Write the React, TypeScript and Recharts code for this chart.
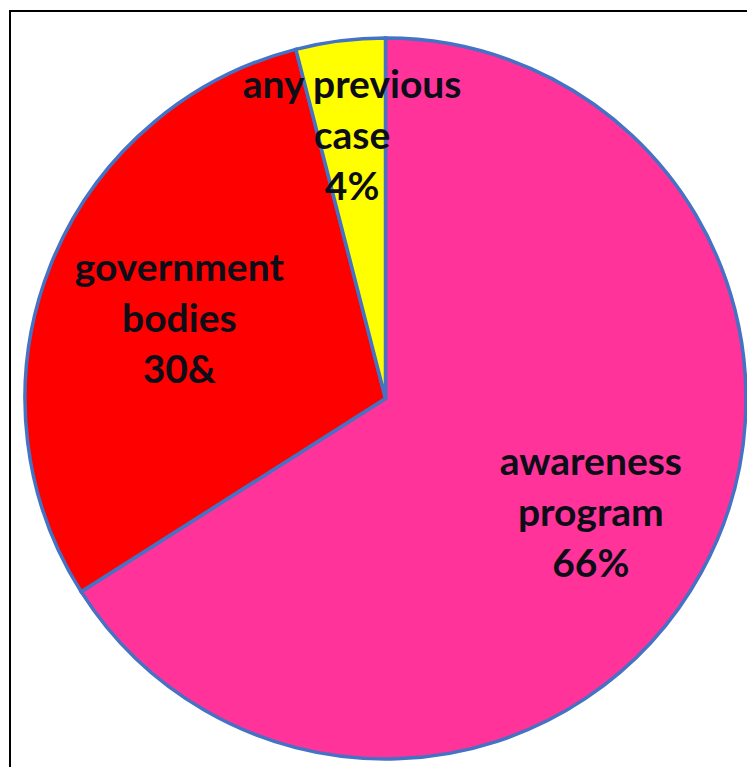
import { PieChart, Pie, Cell } from "recharts";

// ── data ──
const categories = ["awareness program", "government bodies", "any previous case"];
const values = [66, 30, 4];
const valueLabels = ["66%", "30&", "4%"];
const colors = ["#FF3399", "#FF0000", "#FFFF00"];

// label lines per slice (Excel wraps them)
const labelLines = [
  ["awareness", "program"],
  ["government", "bodies"],
  ["any previous", "case"],
];

const data = categories.map((name, i) => ({ name, value: values[i] }));

const RAD = Math.PI / 180;
// how far out each label sits, as a share of the radius (best-fit look)
const labelRadius = [0.65, 0.615, 0.74];

function renderLabel(props: any) {
  const { cx, cy, midAngle, outerRadius, index } = props;
  const r = outerRadius * labelRadius[index];
  const x = cx + r * Math.cos(-midAngle * RAD);
  const y = cy + r * Math.sin(-midAngle * RAD);
  const lines = [...labelLines[index], valueLabels[index]];
  const lh = 51;
  const y0 = y - lh * (lines.length - 1) / 2;
  return (
    <text
      x={x}
      y={y0}
      textAnchor="middle"
      dominantBaseline="central"
      fill="#0d0d17"
      fontFamily="Lato, 'Open Sans', sans-serif"
      fontWeight={700}
      fontSize={39}
    >
      {lines.map((l, k) => (
        <tspan key={k} x={x} y={y0 + k * lh}>
          {l}
        </tspan>
      ))}
    </text>
  );
}

export default function App() {
  return (
    <div style={{ position: "relative", width: 747, height: 759 }}>
      {/* chart frame, only the top/left edges fall inside the picture */}
      <div
        style={{
          position: "absolute",
          left: 1,
          top: 2,
          width: 800,
          height: 800,
          borderLeft: "2px solid #000",
          borderTop: "2px solid #000",
          boxSizing: "border-box",
        }}
      />
      <div style={{ position: "absolute", left: 0, top: 0 }}>
        <PieChart width={747} height={759} margin={{ top: 0, right: 0, bottom: 0, left: 0 }}>
          <Pie
            data={data}
            dataKey="value"
            nameKey="name"
            cx={377.5}
            cy={390.5}
            outerRadius={360.5}
            startAngle={90}
            endAngle={-270}
            stroke="#4472C4"
            strokeWidth={3.5}
            label={renderLabel}
            labelLine={false}
            isAnimationActive={false}
          >
            {data.map((d, i) => (
              <Cell key={d.name} fill={colors[i]} />
            ))}
          </Pie>
        </PieChart>
      </div>
    </div>
  );
}
